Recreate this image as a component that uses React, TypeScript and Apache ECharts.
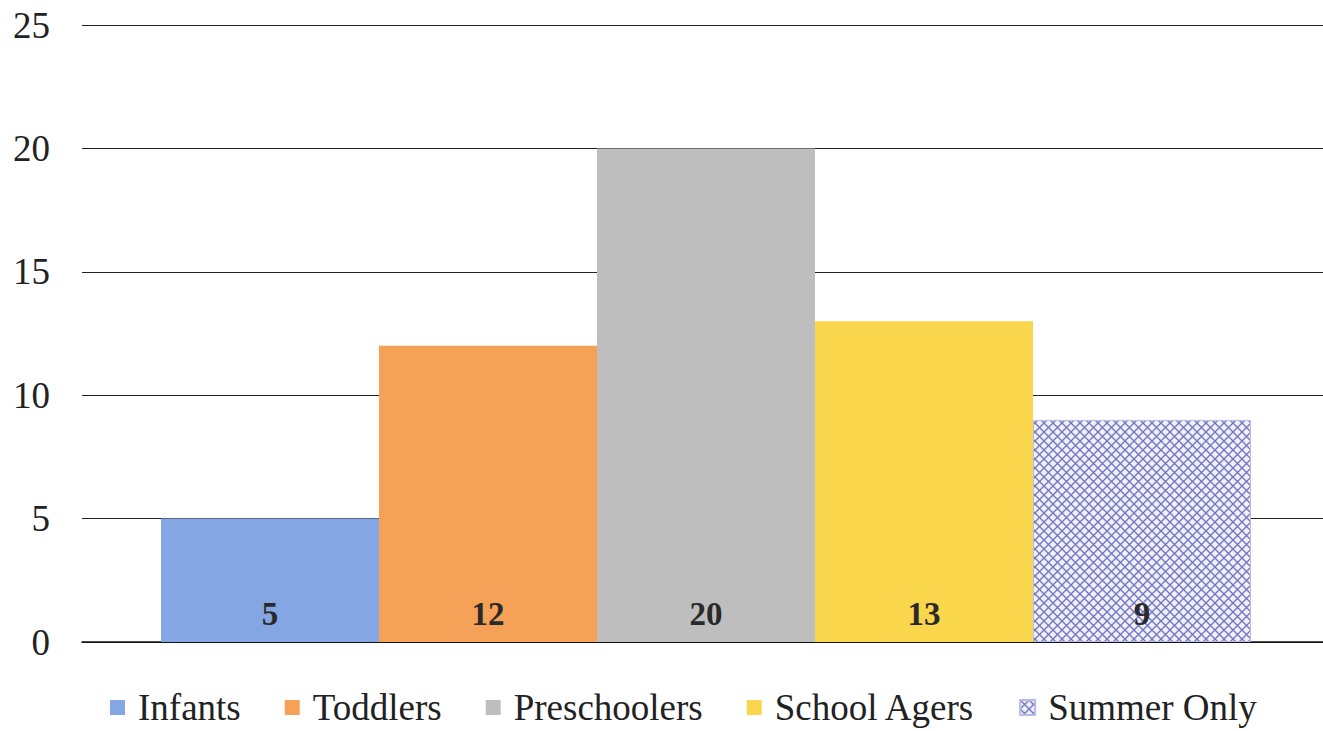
import React, { useEffect, useRef } from "react";
import * as echarts from "echarts";

const categories = ["Enrollment"];
const seriesNames = ["Infants", "Toddlers", "Preschoolers", "School Agers", "Summer Only"];
const seriesValues = [5, 12, 20, 13, 9];
const seriesColors = ["#84A7E4", "#F6A158", "#BEBEBE", "#FAD64C", "pattern"];
const yTicks = [0, 5, 10, 15, 20, 25];

function makePattern(): string {
  const c = document.createElement("canvas");
  c.width = 9;
  c.height = 9;
  const ctx = c.getContext("2d")!;
  ctx.fillStyle = "#EEF1FA";
  ctx.fillRect(0, 0, 9, 9);
  ctx.strokeStyle = "#7676C2";
  ctx.lineWidth = 1.4;
  ctx.beginPath();
  ctx.moveTo(0, 0);
  ctx.lineTo(9, 9);
  ctx.moveTo(9, 0);
  ctx.lineTo(0, 9);
  ctx.stroke();
  return c.toDataURL();
}

export default function App() {
  const ref = useRef<HTMLDivElement>(null);
  useEffect(() => {
    document.body.style.margin = "0";
    const chart = echarts.init(ref.current!, null, { renderer: "svg" });
    const pat = makePattern();
    const font = "Liberation Serif";
    chart.setOption({
      animation: false,
      backgroundColor: "#ffffff",
      textStyle: { fontFamily: font },
      grid: { left: 82, right: -7, top: 25, bottom: 89, outerBoundsMode: "none", containLabel: false },
      legend: {
        bottom: 0,
        left: 105,
        itemWidth: 15,
        itemHeight: 15,
        itemGap: 44,
        icon: "rect",
        textStyle: { fontFamily: font, fontSize: 37, color: "#222", padding: [0, 0, 0, 8] },
        data: seriesNames,
      },
      xAxis: {
        type: "category",
        data: categories,
        axisLine: { show: true, lineStyle: { color: "#111", width: 1.5 } },
        axisTick: { show: false },
        axisLabel: { show: false },
      },
      yAxis: {
        type: "value",
        min: yTicks[0],
        max: yTicks[yTicks.length - 1],
        interval: 5,
        axisLine: { show: false },
        axisTick: { show: false },
        axisLabel: { fontFamily: font, fontSize: 37, color: "#222", margin: 32 },
        splitLine: { lineStyle: { color: "#222", width: 1.2 } },
      },
      series: seriesNames.map((name, i) => ({
        name,
        type: "bar",
        data: [seriesValues[i]],
        barWidth: 218,
        barGap: "0%",
        itemStyle:
          seriesColors[i] === "pattern"
            ? { color: { image: pat, repeat: "repeat" } as any, borderColor: "#B8BCE6", borderWidth: 1 }
            : { color: seriesColors[i] },
        label: {
          show: true,
          position: "insideBottom",
          distance: 12,
          fontFamily: font,
          fontWeight: "bold",
          fontSize: 33,
          color: "#2a2a2a",
        },
      })),
    });
    return () => chart.dispose();
  }, []);
  return <div ref={ref} style={{ width: 1323, height: 731 }} />;
}
